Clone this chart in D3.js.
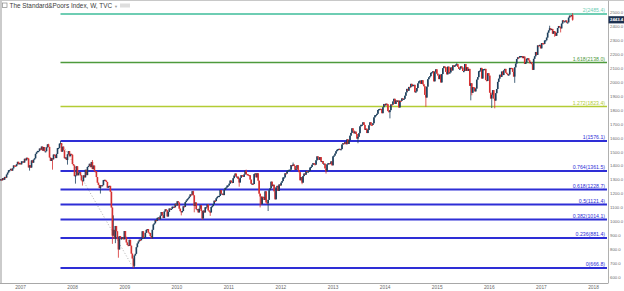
<!DOCTYPE html>
<html>
<head>
<meta charset="utf-8">
<script src="https://cdn.jsdelivr.net/npm/d3@7"></script>
<style>
  html, body { margin: 0; padding: 0; background: #fff; }
  svg { display: block; font-family: "Liberation Sans", Arial, sans-serif; }
</style>
</head>
<body>
<svg id="chart" width="624" height="291"></svg>
<script>
// weekly closes, first week ends 2006-08-18
const firstWeek = "2006-08-18";
const c2006 = [1302,1295,1311,1299,1319,1314,1336,1350,1366,1368,1377,1364,1380,1401,1400,1396,1409,1427,1410,1418];
const c2007 = [1409,1430,1430,1422,1449,1438,1456,1451,1387,1402,1386,1437,1421,1443,1452,1484,1495,1505,1505,1522,1515,1536,1507,1533,1503,1503,1530,1552,1534,1458,1433,1453,1445,1479,1474,1454,1484,1525,1527,1557,1561,1500,1535,1509,1453,1458,1440,1481,1504,1467,1484,1478];
const c2008 = [1411,1401,1325,1330,1395,1331,1349,1353,1331,1294,1288,1330,1316,1370,1332,1390,1398,1413,1389,1426,1375,1400,1361,1360,1318,1278,1262,1240,1260,1257,1260,1296,1298,1292,1283,1242,1252,1255,1213,1100,899,940,877,968,930,873,800,896,876,879,887,873];
const c2009 = [932,890,850,832,826,869,827,770,735,683,757,769,816,843,857,870,866,877,930,883,887,919,940,946,921,918,896,880,941,979,987,1010,1005,1026,1029,1016,1042,1068,1044,1025,1072,1087,1080,1036,1069,1093,1091,1091,1106,1106,1102,1127,1115];
const c2010 = [1145,1136,1092,1074,1066,1075,1109,1105,1139,1150,1160,1167,1178,1194,1192,1217,1187,1111,1136,1088,1089,1065,1092,1117,1076,1022,1078,1065,1102,1102,1122,1079,1071,1065,1104,1110,1125,1149,1146,1166,1176,1183,1183,1225,1199,1199,1189,1225,1240,1244,1257,1258];
const c2011 = [1271,1293,1283,1276,1310,1329,1343,1320,1321,1304,1279,1313,1332,1328,1320,1337,1363,1340,1337,1333,1331,1300,1270,1271,1268,1339,1344,1316,1345,1292,1199,1179,1124,1177,1174,1154,1216,1136,1131,1155,1224,1238,1285,1253,1263,1216,1159,1244,1255,1219,1265,1258];
const c2012 = [1278,1289,1315,1316,1345,1343,1362,1366,1370,1371,1404,1397,1408,1398,1370,1378,1403,1369,1353,1295,1318,1278,1325,1343,1335,1362,1355,1357,1363,1386,1391,1406,1418,1411,1407,1438,1466,1460,1441,1461,1428,1433,1412,1414,1380,1360,1409,1416,1418,1413,1430,1402];
const c2013 = [1466,1472,1486,1503,1513,1518,1520,1516,1518,1551,1561,1556,1569,1553,1588,1555,1582,1614,1634,1667,1650,1631,1643,1626,1593,1606,1632,1681,1692,1692,1710,1691,1656,1664,1633,1655,1688,1710,1692,1691,1703,1745,1760,1762,1771,1798,1804,1806,1805,1775,1818,1841];
const c2014 = [1831,1843,1839,1790,1783,1797,1838,1836,1859,1878,1841,1866,1857,1865,1816,1864,1863,1881,1878,1878,1900,1924,1949,1936,1963,1961,1985,1968,1978,1978,1925,1931,1955,1988,2003,2008,1985,2011,1982,1968,1906,1887,1965,2018,2032,2040,2064,2068,2075,2003,2071,2089];
const c2015 = [2058,2045,2019,2051,1995,2055,2097,2110,2105,2071,2053,2108,2061,2067,2102,2081,2117,2108,2116,2123,2126,2107,2092,2094,2110,2102,2077,2077,2127,2079,2104,2078,2092,1971,1989,1921,1961,1958,1931,1951,2015,2033,2075,2079,2099,2023,2089,2090,2092,2012,2006,2061,2044];
const c2016 = [1922,1880,1907,1940,1880,1865,1918,1948,1999,2022,2050,2035,2073,2048,2081,2092,2065,2057,2047,2052,2099,2099,2096,2071,2037,2103,2130,2162,2175,2173,2183,2184,2184,2169,2180,2128,2139,2165,2168,2153,2133,2141,2126,2085,2164,2182,2213,2192,2260,2258,2264,2239];
const c2017 = [2277,2275,2271,2295,2297,2316,2351,2367,2383,2373,2378,2344,2363,2355,2329,2349,2384,2399,2391,2382,2416,2439,2432,2433,2438,2423,2425,2459,2473,2472,2477,2443.4];
const firstOpen = 1296;

// notable weekly wicks
const wickLows = [["2007-03-09",1364],["2007-08-17",1371],["2007-11-30",1407],["2008-01-25",1271],["2008-03-20",1257],
  ["2008-07-18",1200],["2008-10-10",840],["2008-10-31",845],["2008-11-21",741],["2009-03-06",666.8],["2009-03-13",672],
  ["2010-02-05",1044],["2010-05-07",1066],["2010-07-02",1011],["2010-08-27",1040],["2011-03-18",1249],["2011-08-12",1101],
  ["2011-10-07",1075],["2011-11-25",1158],["2012-06-01",1267],["2012-11-16",1343],["2013-06-28",1560],["2014-02-07",1738],
  ["2014-10-17",1821],["2015-08-28",1867],["2015-09-04",1903],["2016-01-22",1812],["2016-02-12",1810],["2016-07-01",1992],
  ["2016-11-04",2084],["2017-04-13",2322],["2017-05-19",2353],["2017-08-11",2437]];
const wickHighs = [["2007-07-20",1556],["2007-10-12",1576.1],["2008-05-23",1440],["2008-10-17",1044],["2010-04-30",1220],
  ["2011-05-06",1371],["2012-04-05",1422],["2015-05-22",2135],["2017-03-03",2401],["2017-08-11",2491]];

const fibRatios = ["0", "0.236", "0.382", "0.5", "0.618", "0.764", "1", "1.272", "1.618", "2"];
const fibPrices = [666.8, 881.4, 1014.1, 1121.4, 1228.7, 1361.5, 1576.1, 1823.4, 2138.0, 2485.4];
const swingHigh = ["2007-10-12", 1576.1];
const swingLow = ["2009-03-06", 666.8];
const priceTicks = [600,700,800,900,1000,1100,1200,1300,1400,1500,1600,1700,1800,1900,2000,2100,2200,2300,2400,2500];
const yearTicks = ["2007","2008","2009","2010","2011","2012","2013","2014","2015","2016","2017","2018"];
const lastPrice = 2443.4;
const title = "The Standard&Poors Index, W, TVC";

const fibColor = r => r === "2" ? "#6ecdb3" : r === "1.618" ? "#4e9a3c" : r === "1.272" ? "#b3cc34" : "#2e2ed6";
const upColor = "#1c3f5c", downColor = "#d63030";

const svg = d3.select("#chart");
const plotRight = 608, plotBottom = 283;
const parse = d3.utcParse("%Y-%m-%d");

const x = d3.scaleUtc()
  .domain([parse("2007-01-01"), parse("2018-01-01")])
  .range([20, 593]);
const y = d3.scaleLinear().domain([560, 2585]).range([plotBottom, 0]);

// build weekly candles
const closes = [].concat(c2006, c2007, c2008, c2009, c2010, c2011, c2012, c2013, c2014, c2015, c2016, c2017);
const start = parse(firstWeek);

const candles = closes.map((c, i) => {
  const date = d3.utcWeek.offset(start, i);
  const open = i ? closes[i - 1] : firstOpen;
  return { date, open, close: c };
});
// attach wicks to the week that contains the given date
function weekIndex(ds) {
  const t = parse(ds);
  return d3.bisector(d => d.date).left(candles, d3.utcDay.offset(t, -6));
}
candles.forEach(d => { d.high = Math.max(d.open, d.close); d.low = Math.min(d.open, d.close); });
wickLows.forEach(([ds, v]) => { const c = candles[weekIndex(ds)]; if (c) c.low = Math.min(c.low, v); });
wickHighs.forEach(([ds, v]) => { const c = candles[weekIndex(ds)]; if (c) c.high = Math.max(c.high, v); });

// frame
svg.append("line").attr("x1", 1).attr("x2", 1).attr("y1", 0).attr("y2", plotBottom)
  .attr("stroke", "#a8a8a8").attr("stroke-width", 1.2);
svg.append("line").attr("x1", 0).attr("x2", 624).attr("y1", 0.5).attr("y2", 0.5)
  .attr("stroke", "#c8c8c8");

// dotted swing line
svg.append("line")
  .attr("x1", x(parse(swingHigh[0]))).attr("y1", y(swingHigh[1]))
  .attr("x2", x(parse(swingLow[0]))).attr("y2", y(swingLow[1]))
  .attr("stroke", "#9a9a9a").attr("stroke-width", 0.8).attr("stroke-dasharray", "1,2");

// fib levels
const fibX0 = x(parse(swingHigh[0]));
const fib = svg.append("g").attr("class", "fib");
fib.selectAll("line").data(fibRatios).enter().append("line")
  .attr("x1", fibX0).attr("x2", plotRight - 1)
  .attr("y1", (d, i) => y(fibPrices[i])).attr("y2", (d, i) => y(fibPrices[i]))
  .attr("stroke", d => fibColor(d))
  .attr("stroke-width", d => d === "1.618" || d === "1.272" ? 1.5 : 2);
fib.selectAll("text").data(fibRatios).enter().append("text")
  .attr("x", plotRight - 3).attr("y", (d, i) => y(fibPrices[i]) - 1.8)
  .attr("text-anchor", "end").attr("font-size", 5.2)
  .attr("fill", d => fibColor(d))
  .text((d, i) => `${d}(${fibPrices[i].toFixed(1)})`);

// candles
const cg = svg.append("g").attr("class", "candles");
cg.selectAll("line").data(candles).enter().append("line")
  .attr("x1", d => x(d.date)).attr("x2", d => x(d.date))
  .attr("y1", d => y(d.high)).attr("y2", d => y(d.low))
  .attr("stroke", d => d.close >= d.open ? upColor : downColor)
  .attr("stroke-width", 0.8);
cg.selectAll("rect").data(candles).enter().append("rect")
  .attr("x", d => x(d.date) - 0.8).attr("width", 1.6)
  .attr("y", d => y(Math.max(d.open, d.close)))
  .attr("height", d => Math.max(1.2, Math.abs(y(d.open) - y(d.close))))
  .attr("fill", d => d.close >= d.open ? upColor : downColor);

// right price axis
const yAxis = svg.append("g").attr("transform", `translate(${plotRight},0)`)
  .call(d3.axisRight(y).tickValues(priceTicks).tickSize(0).tickPadding(2).tickFormat(d3.format(".1f")));
yAxis.select(".domain").attr("stroke", "#b0b0b0");
yAxis.selectAll("text").attr("font-size", 4.3).attr("fill", "#6a6a6a").attr("font-family", null);

// last price tag
const lp = svg.append("g").attr("transform", `translate(${plotRight + 0.5},${y(lastPrice)})`);
lp.append("rect").attr("x", 0).attr("y", -3.6).attr("width", 15.5).attr("height", 7.2).attr("fill", "#1d3150");
lp.append("text").attr("x", 1.5).attr("y", 1.6).attr("font-size", 4.3).attr("font-weight", "bold")
  .attr("fill", "#fff").text(lastPrice.toFixed(1));

// bottom time axis
const xAxis = svg.append("g").attr("transform", `translate(0,${plotBottom})`)
  .call(d3.axisBottom(x).tickValues(yearTicks.map(t => parse(t + "-01-01")))
    .tickSize(0).tickPadding(3).tickFormat(d3.utcFormat("%Y")));
xAxis.select(".domain").attr("d", `M0,0.5H${plotRight}`).attr("stroke", "#a8a8a8");
xAxis.selectAll("text").attr("font-size", 4.8).attr("fill", "#6a6a6a").attr("font-family", null);

// title
svg.append("rect").attr("x", 2.5).attr("y", 3).attr("width", 4.5).attr("height", 4.5)
  .attr("fill", "none").attr("stroke", "#888").attr("stroke-width", 0.7);
svg.append("text").attr("x", 9.5).attr("y", 8).attr("font-size", 6.4).attr("fill", "#3a3a3a").text(title);
svg.append("text").attr("x", 114).attr("y", 7.5).attr("font-size", 4).attr("fill", "#999").text("▼");
svg.append("rect").attr("x", 120).attr("y", 3.5).attr("width", 10).attr("height", 4).attr("fill", "#dedede");
</script>
</body>
</html>
